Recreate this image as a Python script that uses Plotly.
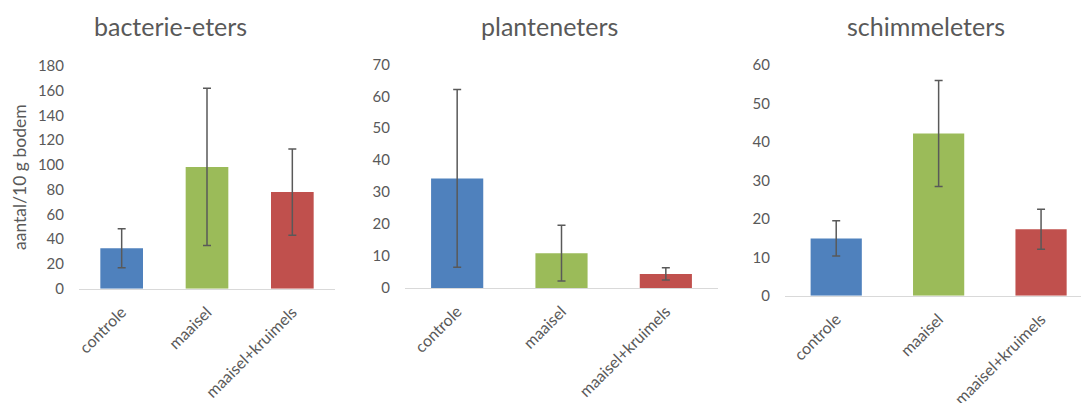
import plotly.graph_objects as go

categories = ["controle", "maaisel", "maaisel+kruimels"]
colors = ["#4F81BD", "#9BBB59", "#C0504D"]

titles = ["bacterie-eters", "planteneters", "schimmeleters"]

bacterie = [32.7, 98.3, 78.0]
bacterie_err = [15.7, 63.5, 34.8]

planten = [34.3, 10.9, 4.4]
planten_err = [27.8, 8.7, 1.9]

schimmel = [14.9, 42.2, 17.3]
schimmel_err = [4.6, 13.8, 5.2]

W, H = 1081, 403
grey = "#595959"
font = "Lato, Carlito, Calibri, sans-serif"

# pixel boxes of the three plot areas: x0, x1, y_top, y_zero, ymax, dtick, x range
panels = [
    (79, 335, 65.7, 288.7, 180, 20, [-0.5, 2.5]),
    (405, 718, 64.3, 288.0, 70, 10, [-0.5, 2.5]),
    (785, 1081, 65.0, 295.7, 60, 10, [-0.5, 2.39]),
]
title_x = [170, 549, 926]

values = [bacterie, planten, schimmel]
errors = [bacterie_err, planten_err, schimmel_err]

fig = go.Figure()
layout = {}
for i, (vals, errs, p) in enumerate(zip(values, errors, panels)):
    x0, x1, yt, yz, ymax, dt, xr = p
    n = "" if i == 0 else str(i + 1)
    fig.add_trace(go.Bar(
        x=categories, y=vals,
        marker=dict(color=colors, line=dict(width=0)),
        error_y=dict(type="data", array=errs, color=grey, thickness=1.5, width=4),
        xaxis="x" + n, yaxis="y" + n, showlegend=False,
    ))
    layout["xaxis" + n] = dict(
        domain=[x0 / W, x1 / W], anchor="y" + n, range=xr,
        showline=True, linecolor="#d9d9d9", linewidth=1,
        ticks="", tickangle=-45, automargin=False, ticklabelstandoff=7,
        tickfont=dict(family=font, size=16, color=grey),
        showgrid=False, zeroline=False,
    )
    layout["yaxis" + n] = dict(
        domain=[1 - yz / H, 1 - yt / H], anchor="x" + n,
        range=[0, ymax], dtick=dt, showgrid=False, zeroline=False,
        showline=False, ticks="", ticklabelstandoff=14, automargin=False,
        tickfont=dict(family=font, size=15, color=grey),
    )

annotations = []
for t, tx in zip(titles, title_x):
    annotations.append(dict(
        text=t, x=tx / W, y=1 - 26 / H, xref="paper", yref="paper",
        xanchor="center", yanchor="middle", showarrow=False,
        font=dict(family=font, size=25, color=grey),
    ))
annotations.append(dict(
    text="aantal/10 g bodem", x=19 / W, y=1 - 177 / H, xref="paper", yref="paper",
    xanchor="center", yanchor="middle", showarrow=False, textangle=-90,
    font=dict(family=font, size=17.5, color=grey),
))

fig.update_layout(
    width=W, height=H,
    margin=dict(l=0, r=0, t=0, b=0),
    plot_bgcolor="white", paper_bgcolor="white",
    bargap=0.5, annotations=annotations,
    **layout,
)

fig.write_html("out.html", config={"displayModeBar": False})

# drop the default page margin so the figure sits at the window's corner
with open("out.html", encoding="utf-8") as f:
    html = f.read()
html = html.replace("<head>", "<head><style>body{margin:0;overflow:hidden}</style>", 1)
with open("out.html", "w", encoding="utf-8") as f:
    f.write(html)
